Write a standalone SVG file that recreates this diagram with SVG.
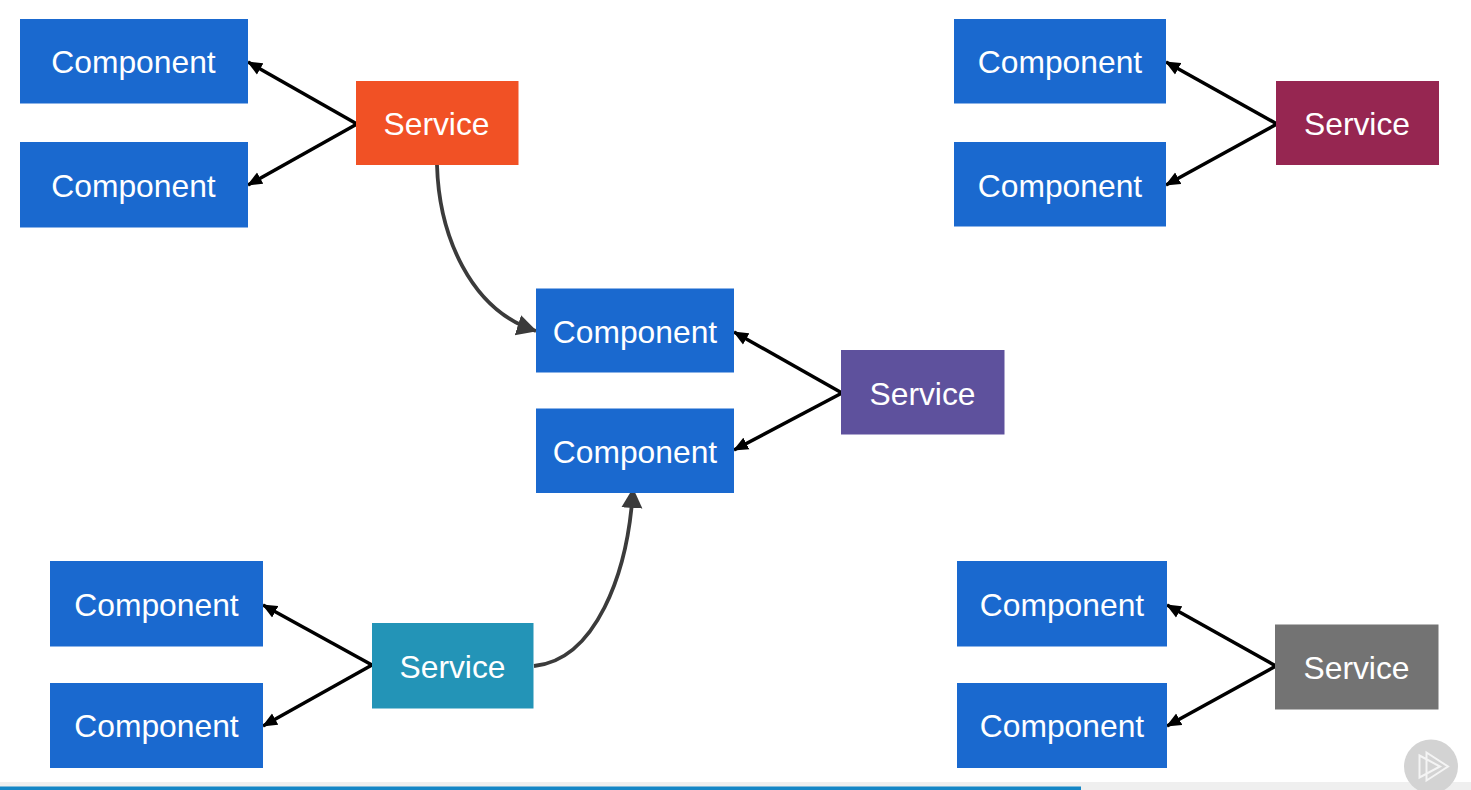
<svg xmlns="http://www.w3.org/2000/svg" width="1471" height="790" viewBox="0 0 1471 790">
<style>
.c{fill:#1a69cf}
text{font-family:"Liberation Sans",Arial,sans-serif;font-size:31.800px;fill:#fff;text-anchor:middle}
.k{fill:none;stroke:#000;stroke-width:3.500px;marker-end:url(#ah)}
.g{fill:none;stroke:#3b3b3b;stroke-width:3.800px;marker-end:url(#ag)}
</style>
<defs>
<marker id="ah" markerUnits="userSpaceOnUse" markerWidth="16" markerHeight="14" refX="14" refY="7" orient="auto"><path d="M0 0.500L15 7L0 13.500Z" fill="#000"/></marker>
<marker id="ag" markerUnits="userSpaceOnUse" markerWidth="22" markerHeight="24" refX="19" refY="12" orient="auto"><path d="M0 1.500L20 12L0 22.500Z" fill="#3b3b3b"/></marker>
</defs>
<rect width="1471" height="790" fill="#fff"/>
<g id="connectors">
<path class="k" d="M357 124L248 62"/>
<path class="k" d="M357 124L248 185"/>
<path class="k" d="M1277 124L1166 62"/>
<path class="k" d="M1277 124L1166 185"/>
<path class="k" d="M842 393L734 332"/>
<path class="k" d="M842 393L734 450"/>
<path class="k" d="M372 665L263 605"/>
<path class="k" d="M372 665L263 726"/>
<path class="k" d="M1276 666L1167 605"/>
<path class="k" d="M1276 666L1167 726"/>
<path class="g" d="M437 165C439 235 470 310 536 331"/>
<path class="g" d="M534 666C595 660 628 575 633 489"/>
</g>
<g id="comp1"><rect class="c" x="20" y="19" width="228" height="84.500"/><text x="133.500" y="73">Component</text></g>
<g id="comp2"><rect class="c" x="20" y="142" width="228" height="85.500"/><text x="133.500" y="196.500">Component</text></g>
<g id="svc1"><rect x="356" y="81" width="162.500" height="84" fill="#f15125"/><text x="436.500" y="135">Service</text></g>
<g id="comp3"><rect class="c" x="954" y="19" width="212" height="84.500"/><text x="1060" y="73">Component</text></g>
<g id="comp4"><rect class="c" x="954" y="142" width="212" height="84.500"/><text x="1060" y="196.500">Component</text></g>
<g id="svc2"><rect x="1276" y="81" width="163" height="84" fill="#962651"/><text x="1357" y="135">Service</text></g>
<g id="comp5"><rect class="c" x="536" y="288.500" width="198" height="84"/><text x="635" y="342.500">Component</text></g>
<g id="comp6"><rect class="c" x="536" y="408.500" width="198" height="84.500"/><text x="635" y="463">Component</text></g>
<g id="svc3"><rect x="841" y="350" width="163.500" height="84.500" fill="#5e519d"/><text x="922.500" y="404.500">Service</text></g>
<g id="comp7"><rect class="c" x="50" y="561" width="213" height="85.500"/><text x="156.500" y="616">Component</text></g>
<g id="comp8"><rect class="c" x="50" y="683" width="213" height="85"/><text x="156.500" y="737">Component</text></g>
<g id="svc4"><rect x="372" y="623" width="161.500" height="85.500" fill="#2394b7"/><text x="452.500" y="678">Service</text></g>
<g id="comp9"><rect class="c" x="957" y="561" width="210" height="85.500"/><text x="1062" y="616">Component</text></g>
<g id="comp10"><rect class="c" x="957" y="683" width="210" height="85"/><text x="1062" y="737">Component</text></g>
<g id="svc5"><rect x="1275" y="624.500" width="163.500" height="85" fill="#737373"/><text x="1356.500" y="679">Service</text></g>
<rect x="0" y="782" width="1471" height="8" fill="#efefef"/>
<rect x="0" y="786.500" width="1081" height="3.500" fill="#1486c6"/>
<circle cx="1431" cy="766.500" r="27" fill="#d3d3d3"/>
<path d="M1419.500 755.500L1440 766.500L1419.500 777.500Z M1426.500 752.500L1448 766.500L1426.500 780.500Z" fill="none" stroke="#f4f4f4" stroke-width="2"/>
</svg>
